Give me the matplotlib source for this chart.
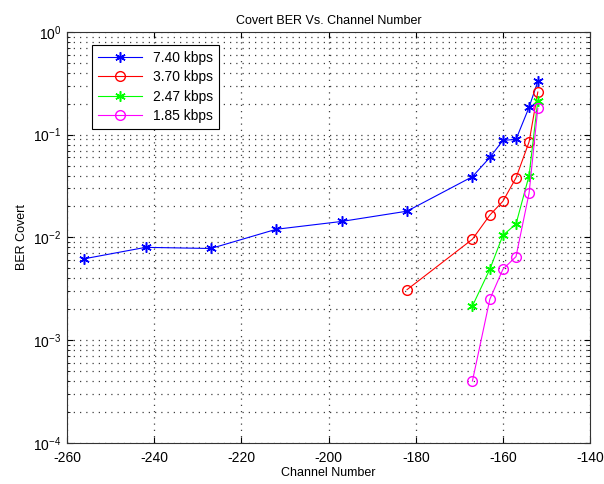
import matplotlib
matplotlib.use("Agg")
import matplotlib.pyplot as plt
from matplotlib.ticker import LogLocator, NullFormatter

plt.rcParams["font.family"] = ["Liberation Sans", "DejaVu Sans"]
plt.rcParams["font.size"] = 9
plt.rcParams["axes.unicode_minus"] = False

# données
ch_740 = [-256, -242, -227, -212, -197, -182, -167, -163, -160, -157, -154, -152]
ber_740 = [6.2e-3, 8.0e-3, 7.8e-3, 1.2e-2, 1.43e-2, 1.8e-2, 3.9e-2, 6.0e-2,
           8.8e-2, 9.0e-2, 1.85e-1, 3.3e-1]

ch_370 = [-182, -167, -163, -160, -157, -154, -152]
ber_370 = [3.1e-3, 9.6e-3, 1.65e-2, 2.25e-2, 3.8e-2, 8.5e-2, 2.6e-1]

ch_247 = [-167, -163, -160, -157, -154, -152]
ber_247 = [2.15e-3, 4.9e-3, 1.05e-2, 1.35e-2, 4.0e-2, 2.15e-1]

ch_185 = [-167, -163, -160, -157, -154, -152]
ber_185 = [4.0e-4, 2.5e-3, 4.9e-3, 6.5e-3, 2.7e-2, 1.8e-1]

labels = ["7.40 kbps", "3.70 kbps", "2.47 kbps", "1.85 kbps"]
x_ticks = [-260, -240, -220, -200, -180, -160, -140]

fig = plt.figure(figsize=(6.04, 4.84), dpi=100)
ax = fig.add_axes([0.111, 0.085, 0.866, 0.849])

# astérisque façon MATLAB
star = (6, 2, 0)
green = (0, 1, 0)
magenta = (1, 0, 1)

ax.semilogy(ch_740, ber_740, "b-", marker=star, mec="b", mew=1.1, lw=0.8,
            ms=7.5, label=labels[0])
ax.semilogy(ch_370, ber_370, "r-o", lw=0.8, ms=7, mfc="none", label=labels[1])
ax.semilogy(ch_247, ber_247, "-", marker=star, color=green, mec=green, mew=1.1,
            lw=0.8, ms=7.5, label=labels[2])
ax.semilogy(ch_185, ber_185, "-o", color=magenta, lw=0.8, ms=7, mfc="none",
            label=labels[3])

ax.set_xlim(-260, -140)
ax.set_ylim(1e-4, 1)
ax.set_xticks(x_ticks)
ax.yaxis.set_major_locator(LogLocator(base=10, numticks=10))
ax.yaxis.set_minor_locator(LogLocator(base=10, subs=range(2, 10), numticks=20))
ax.yaxis.set_minor_formatter(NullFormatter())

# grille pointillée style MATLAB
dots = (0, (1, 4))
ax.grid(True, which="major", linestyle=dots, color="0.25", lw=0.9)
ax.grid(True, which="minor", axis="y", linestyle=dots, color="0.25", lw=0.9)
ax.tick_params(which="both", direction="in", top=True, right=True,
               labelsize=10)
ax.tick_params(which="major", length=4)
ax.tick_params(which="minor", length=2)
ax.tick_params(axis="x", pad=6)
ax.tick_params(axis="y", pad=4)
for s in ax.spines.values():
    s.set_linewidth(0.8)
    s.set_color("0.2")

ax.set_title("Covert BER Vs. Channel Number", fontsize=9)
ax.set_xlabel("Channel Number", labelpad=1)
ax.set_ylabel("BER Covert")

leg = ax.legend(loc="upper left", bbox_to_anchor=(0.035, 0.985), fontsize=10,
                fancybox=False, edgecolor="black", framealpha=1,
                handlelength=3.2, borderpad=0.4, labelspacing=0.4)
leg.get_frame().set_linewidth(0.8)

fig.savefig("out.png", dpi=100)
